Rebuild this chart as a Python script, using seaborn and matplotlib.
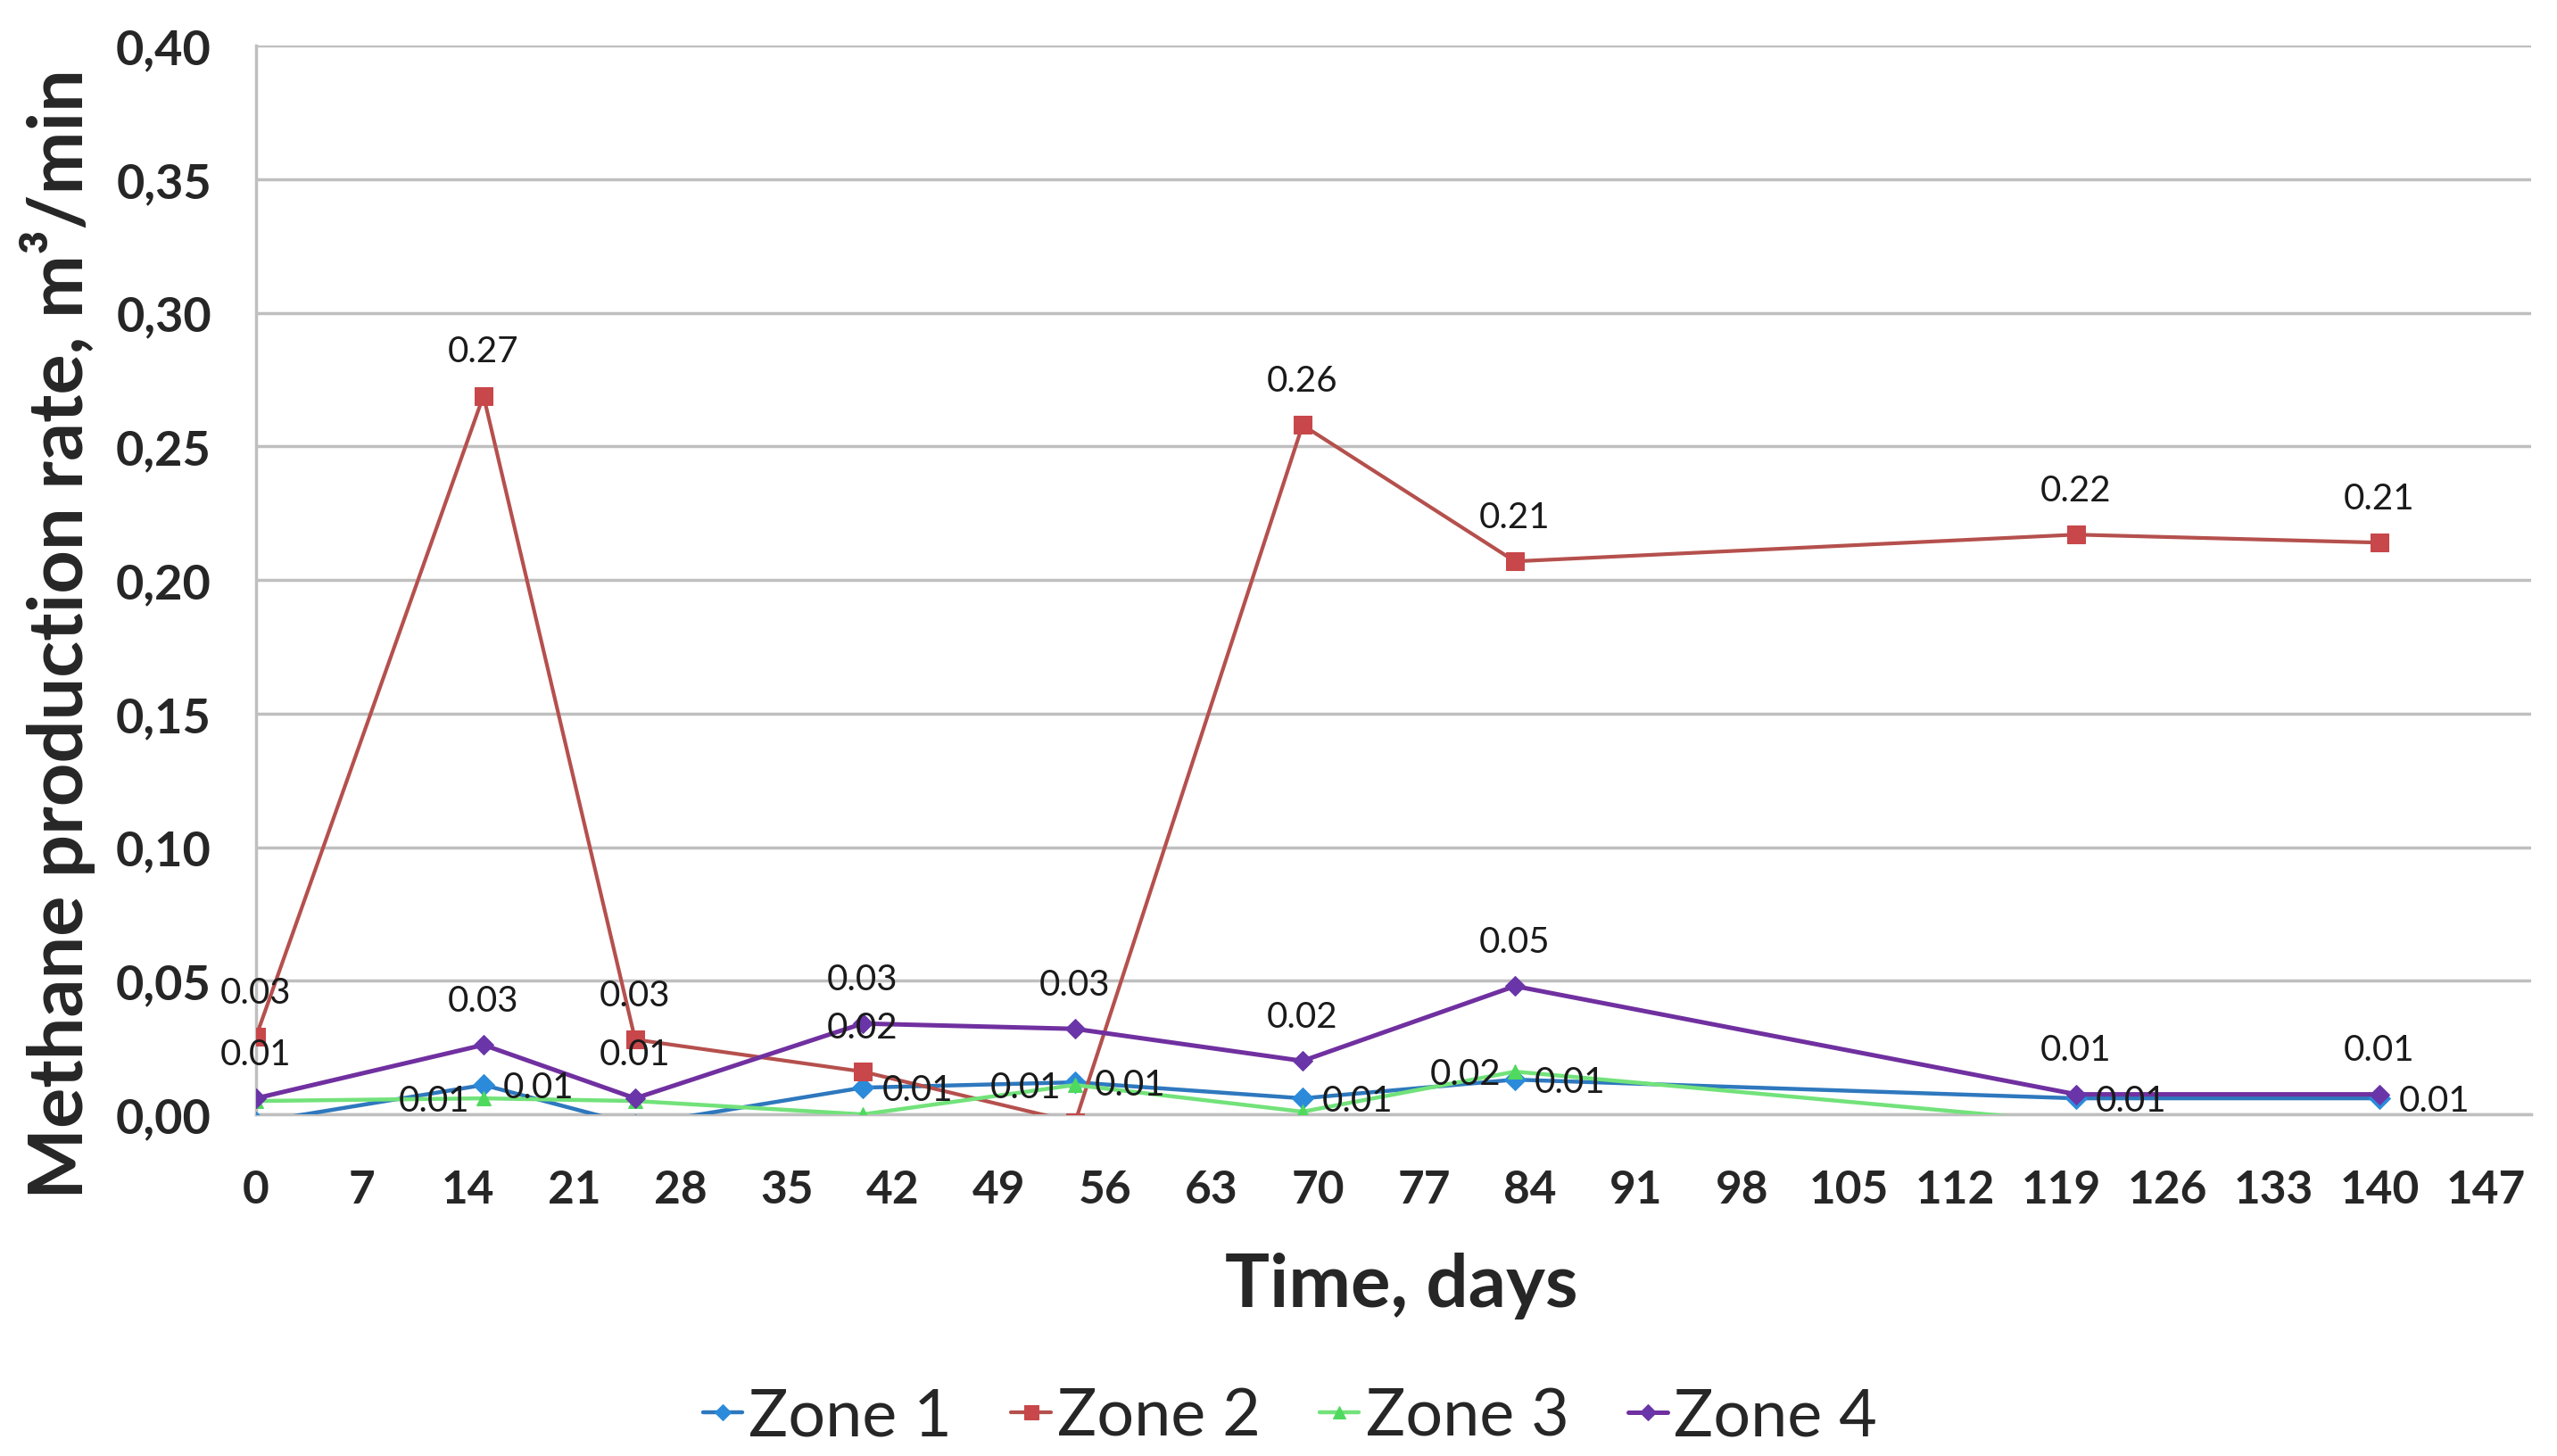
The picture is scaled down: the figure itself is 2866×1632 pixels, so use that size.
import pandas as pd
import numpy as np
import matplotlib.pyplot as plt
import seaborn as sns

# days of measurement
days = [0, 15, 25, 40, 54, 69, 83, 120, 140]

# methane production rate, m3/min (negatives are clipped by the axis)
zone1 = [-0.003, 0.011, -0.004, 0.010, 0.012, 0.006, 0.013, 0.006, 0.006]
zone2 = [0.029, 0.269, 0.028, 0.016, -0.003, 0.258, 0.207, 0.217, 0.214]
zone3 = [0.005, 0.006, 0.005, 0.000, 0.011, 0.001, 0.016, -0.003, -0.003]
zone4 = [0.006, 0.026, 0.006, 0.034, 0.032, 0.020, 0.048, 0.0075, 0.0075]

zones = ["Zone 1", "Zone 2", "Zone 3", "Zone 4"]
series = [zone1, zone2, zone3, zone4]

# which points carry a data label, and where
labelled = {
    "Zone 1": [1, 3, 4, 5, 6, 7, 8],
    "Zone 2": [0, 1, 2, 3, 5, 6, 7, 8],
    "Zone 3": [1, 4, 6],
    "Zone 4": [0, 1, 2, 3, 4, 5, 6, 7, 8],
}
label_side = {"Zone 1": "right", "Zone 2": "above", "Zone 3": "left", "Zone 4": "above"}

line_colors = {"Zone 1": "#2E78BE", "Zone 2": "#B5504D", "Zone 3": "#72E27A", "Zone 4": "#7030A0"}
marker_colors = {"Zone 1": "#2B8BDA", "Zone 2": "#C8474A", "Zone 3": "#4FD95E", "Zone 4": "#6A35A8"}
markers = {"Zone 1": "D", "Zone 2": "s", "Zone 3": "^", "Zone 4": "D"}
msizes = {"Zone 1": 12, "Zone 2": 15, "Zone 3": 12, "Zone 4": 11}
lwidths = {"Zone 1": 3.2, "Zone 2": 3.0, "Zone 3": 3.2, "Zone 4": 3.6}

df = pd.concat([pd.DataFrame({"day": days, "rate": vals, "zone": z})
                for z, vals in zip(zones, series)], ignore_index=True)

sns.set_style("white")
plt.rcParams['font.family'] = ['Lato', 'DejaVu Sans']

fig = plt.figure(figsize=(28.66, 16.33), dpi=100)
ax = fig.add_axes([0.1001, 0.2345, 0.8898, 0.7335])

for z in zones:
    sub = df[df["zone"] == z]
    sns.lineplot(data=sub, x="day", y="rate", ax=ax, estimator=None, sort=False,
                 color=line_colors[z], linewidth=lwidths[z], marker=markers[z],
                 markersize=msizes[z], markerfacecolor=marker_colors[z],
                 markeredgecolor=marker_colors[z], label=z, zorder=3)

# data labels
for z, vals in zip(zones, series):
    for i in labelled[z]:
        txt = f"{vals[i]:.2f}"
        side = label_side[z]
        if side == "above":
            off, ha, va = (0, 50), "center", "center"
        elif side == "right":
            off, ha, va = (22, -2), "left", "center"
        else:
            off, ha, va = (-16, -2), "right", "center"
        ax.annotate(txt, (days[i], vals[i]), xytext=off, textcoords="offset pixels",
                    ha=ha, va=va, fontsize=29, color="#1a1a1a", zorder=5)

ax.set_xlim(0, 150)
ax.set_ylim(0, 0.40)
ax.set_xticks(np.arange(0, 148, 7))
yt = np.arange(0, 0.401, 0.05)
ax.set_yticks(yt)
ax.set_yticklabels([f"{v:.2f}".replace(".", ",") for v in yt])
ax.yaxis.grid(True, color="#BFBFBF", linewidth=2.5)
ax.xaxis.grid(False)
ax.set_axisbelow(True)
for s in ["top", "right"]:
    ax.spines[s].set_visible(False)
for s in ["left", "bottom"]:
    ax.spines[s].set_color("#BFBFBF")
    ax.spines[s].set_linewidth(2.5)
ax.tick_params(axis="both", length=0)
ax.tick_params(axis="y", pad=36, labelsize=39)
ax.tick_params(axis="x", pad=44, labelsize=37)
for lab in ax.get_xticklabels() + ax.get_yticklabels():
    lab.set_fontweight("bold")

ax.set_xlabel("")
ax.set_ylabel("")
fig.text(0.548, 0.117, "Time, days", ha="center", va="center", fontsize=60, fontweight="bold")
fig.text(0.0225, 0.565, "Methane production rate, m³/min", rotation=90,
         ha="center", va="center", fontsize=61, fontweight="bold")

ax.legend(loc="center", bbox_to_anchor=(0.5045, 0.027), bbox_transform=fig.transFigure,
          ncol=4, frameon=False, fontsize=53, handlelength=0.6, handletextpad=0.1,
          columnspacing=0.9, markerscale=0.8)

plt.savefig("out.png", dpi=100)
plt.close()
